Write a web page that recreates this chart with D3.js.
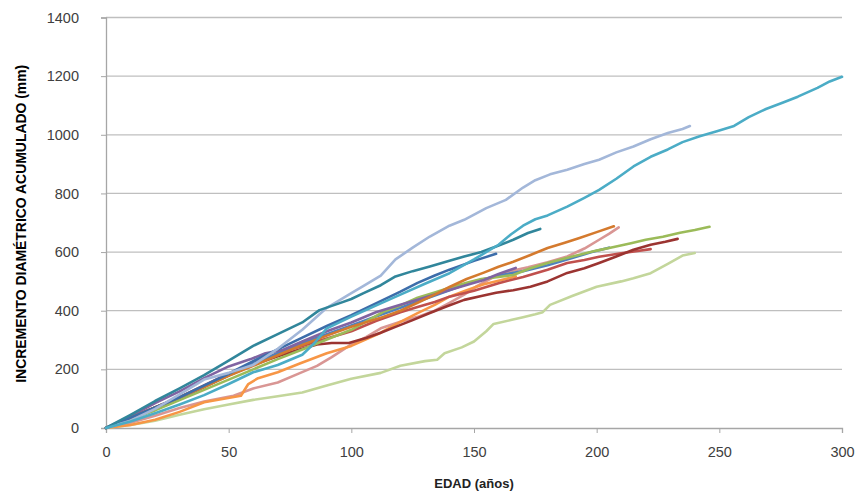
<!DOCTYPE html>
<html>
<head>
<meta charset="utf-8">
<script src="https://cdn.jsdelivr.net/npm/d3@7"></script>
<style>
  body { margin: 0; background: #fff; }
  text { font-family: "Liberation Sans", Arial, sans-serif; }
</style>
</head>
<body>
<div id="chart"></div>
<script>
// tick values
var xTicks = [0, 50, 100, 150, 200, 250, 300]
var yTicks = [0, 200, 400, 600, 800, 1000, 1200, 1400]

// each series: [age, accumulated increment]
var lightGreen = [[0,0],[10,10],[20,25],[30,45],[40,64],[50,80],[60,96],[70,108],[80,121],[90,145],[100,168],[112,188],[120,212],[130,228],[135,233],[138,255],[145,275],[150,295],[155,330],[158,355],[165,368],[170,378],[175,388],[178,395],[181,420],[190,450],[200,482],[210,500],[215,511],[222,528],[229,560],[235,588],[240,597]]
var cyan = [[0,0],[10,22],[20,50],[30,80],[40,112],[50,150],[60,190],[70,215],[80,250],[85,290],[90,340],[100,380],[112,425],[120,455],[130,492],[140,528],[150,575],[160,625],[165,660],[170,690],[175,712],[180,725],[188,755],[195,785],[201,812],[208,850],[215,892],[222,925],[229,950],[235,975],[242,995],[249,1012],[256,1030],[262,1060],[269,1088],[276,1110],[282,1130],[290,1160],[295,1182],[300,1198]]
var lightSteel = [[0,0],[10,25],[20,65],[30,115],[40,165],[50,188],[60,215],[70,270],[80,335],[90,410],[100,460],[105,485],[112,520],[118,575],[125,615],[132,653],[140,690],[146,710],[155,750],[163,778],[170,820],[175,845],[181,865],[188,881],[195,900],[201,915],[208,940],[215,960],[222,985],[229,1006],[235,1020],[238,1030]]
var teal = [[0,0],[10,45],[20,92],[30,135],[40,180],[50,230],[60,280],[70,320],[80,360],[87,402],[95,425],[100,440],[105,460],[112,487],[118,517],[125,535],[132,551],[140,570],[146,585],[153,600],[159,619],[166,642],[172,665],[177,679]]
var darkBlue = [[0,0],[10,35],[20,70],[30,105],[40,145],[50,185],[60,228],[70,268],[80,308],[90,348],[100,385],[113,437],[120,465],[127,495],[134,520],[140,540],[150,570],[159,594]]
var purple = [[0,0],[10,40],[20,85],[30,125],[40,170],[50,210],[59,235],[65,255],[72,266],[80,295],[90,330],[100,360],[110,395],[120,420],[127,437],[134,455],[140,471],[148,490],[154,505],[160,525],[167,546]]
var orangeBrown = [[0,0],[10,35],[20,70],[30,105],[40,140],[50,178],[60,212],[70,248],[80,283],[90,315],[100,345],[113,379],[120,400],[127,427],[134,455],[140,481],[147,508],[154,530],[160,550],[166,567],[173,590],[180,614],[187,632],[193,648],[200,668],[207,688]]
var pink = [[0,0],[10,18],[20,42],[30,68],[40,90],[52,110],[60,135],[70,155],[79,187],[86,212],[92,242],[100,285],[106,310],[112,340],[120,362],[127,379],[134,400],[140,427],[146,455],[151,483],[158,515],[165,535],[172,548],[180,565],[188,585],[195,612],[201,642],[205,662],[209,684]]
var orange = [[0,0],[10,10],[20,28],[30,55],[40,88],[55,110],[58,150],[62,170],[70,190],[79,220],[90,255],[100,280],[112,325],[120,362],[127,392],[134,420],[140,448],[147,470],[154,490],[160,502],[167,517]]
var green = [[0,0],[10,30],[20,60],[30,95],[40,130],[50,165],[60,200],[70,235],[80,268],[90,302],[100,335],[113,396],[120,418],[127,444],[134,462],[140,478],[147,495],[153,508],[160,515],[166,522],[173,545],[180,563],[187,578],[193,591],[200,605],[207,617],[214,630],[220,642],[227,652],[234,666],[240,675],[246,686]]
var blue = [[0,0],[10,32],[20,65],[30,100],[40,140],[50,180],[60,220],[70,255],[80,290],[90,320],[100,350],[110,380],[120,410],[130,440],[140,470],[150,500],[160,520],[170,535],[180,555],[190,580],[198,600],[205,615]]
var red = [[0,0],[10,35],[20,70],[30,105],[40,145],[50,185],[60,220],[70,255],[80,280],[90,305],[100,330],[110,365],[120,395],[127,413],[134,430],[140,448],[150,468],[160,494],[170,515],[180,540],[188,563],[195,573],[201,584],[210,596],[216,603],[222,610]]
var darkRed = [[0,0],[10,35],[20,70],[30,105],[40,140],[50,180],[60,215],[70,245],[80,270],[86,285],[92,290],[99,290],[106,307],[112,325],[118,345],[125,368],[132,392],[139,415],[146,437],[153,450],[159,461],[166,470],[173,482],[180,500],[188,529],[195,545],[201,563],[208,585],[215,608],[222,625],[228,635],[233,645]]

var seriesData = [lightGreen, pink, orange, red, darkRed, blue, green, purple, orangeBrown, darkBlue, lightSteel, teal, cyan]
var seriesColors = ["#C3D69B", "#D99694", "#F79646", "#C0504D", "#9B3431", "#4F81BD", "#9BBB59", "#8064A2", "#D47A2E", "#3C6DAA", "#A3B7D9", "#31869B", "#4BACC6"]

var margin = { top: 17.5, right: 14, bottom: 64, left: 106 },
      width = 856 - margin.left - margin.right,
      height = 492 - margin.top - margin.bottom;

var svg = d3.select("#chart")
      .append("svg")
      .attr("width", 856)
      .attr("height", 492)
      .append("g")
      .attr("transform", "translate(" + margin.left + "," + margin.top + ")");

var xScale = d3.scaleLinear().domain([0, 300]).range([0, width])
var yScale = d3.scaleLinear().domain([0, 1400]).range([height, 0])

// horizontal gridlines
svg.selectAll(".grid")
      .data(yTicks.slice(1))
      .enter()
      .append("line")
      .attr("x1", 0)
      .attr("x2", width)
      .attr("y1", function (d) { return yScale(d); })
      .attr("y2", function (d) { return yScale(d); })
      .attr("stroke", "#BFBFBF")
      .attr("stroke-width", 1.3)

// y axis
var yAxis = svg.append("g")
      .call(d3.axisLeft(yScale).tickValues(yTicks).tickSize(5).tickPadding(22).tickFormat(d3.format("d")))
yAxis.select(".domain").attr("stroke", "#A6A6A6").attr("stroke-width", 1.3)
yAxis.selectAll(".tick line").attr("stroke", "#A6A6A6")
yAxis.selectAll("text").attr("fill", "#404040").style("font-size", "14.5px").style("font-family", "'Liberation Sans', Arial, sans-serif")

// x axis
var xAxis = svg.append("g")
      .attr("transform", "translate(0," + height + ")")
      .call(d3.axisBottom(xScale).tickValues(xTicks).tickSize(5).tickPadding(14))
xAxis.select(".domain").attr("stroke", "#A6A6A6").attr("stroke-width", 1.3)
xAxis.selectAll(".tick line").attr("stroke", "#A6A6A6")
xAxis.selectAll("text").attr("fill", "#404040").style("font-size", "14.5px").style("font-family", "'Liberation Sans', Arial, sans-serif")

// lines
var line = d3.line()
      .x(function (d) { return xScale(d[0]); })
      .y(function (d) { return yScale(d[1]); })

svg.selectAll(".series")
      .data(seriesData)
      .enter()
      .append("path")
      .attr("d", line)
      .attr("fill", "none")
      .attr("stroke", function (d, i) { return seriesColors[i]; })
      .attr("stroke-width", 2.6)
      .attr("stroke-linejoin", "round")
      .attr("stroke-linecap", "round")

// axis titles
svg.append("text")
      .attr("x", width / 2)
      .attr("y", height + 60)
      .attr("text-anchor", "middle")
      .attr("fill", "#222")
      .style("font-size", "13px")
      .style("font-weight", "bold")
      .text("EDAD (años)")

svg.append("text")
      .attr("transform", "translate(" + (-80) + "," + (yScale(700) + 1) + ")rotate(-90)")
      .attr("text-anchor", "middle")
      .attr("fill", "#000")
      .attr("textLength", 318)
      .attr("lengthAdjust", "spacingAndGlyphs")
      .style("font-size", "14px")
      .style("font-weight", "bold")
      .text("INCREMENTO DIAMÉTRICO ACUMULADO  (mm)")
</script>
</body>
</html>
